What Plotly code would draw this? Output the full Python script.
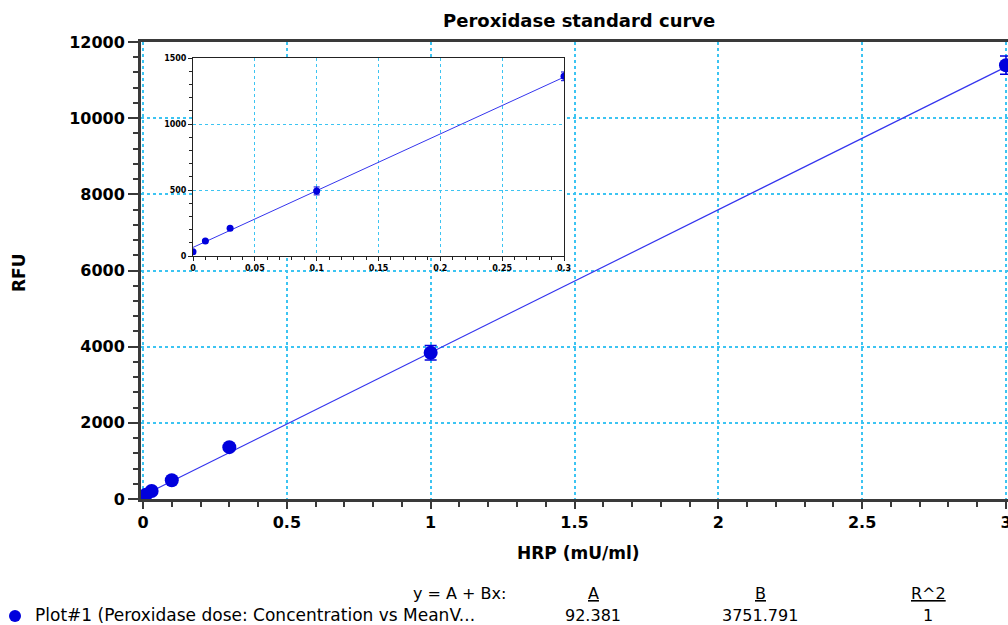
import plotly.graph_objects as go

# ---- data ----
concentration = [0, 0.01, 0.03, 0.1, 0.3, 1, 3]
mean_rfu = [33, 114, 210, 493, 1361, 3840, 11390]
rfu_err = [5, 6, 8, 30, 33, 190, 240]
fit_A = 92.381
fit_B = 3751.791
fit_R2 = 1
inset_fit_A = 65
inset_fit_B = 4300
main_x_ticks = [0, 0.5, 1, 1.5, 2, 2.5, 3]
main_x_labels = ["0", "0.5", "1", "1.5", "2", "2.5", "3"]
main_y_ticks = [0, 2000, 4000, 6000, 8000, 10000, 12000]
main_y_labels = ["0", "2000", "4000", "6000", "8000", "10000", "12000"]
inset_x_ticks = [0, 0.05, 0.1, 0.15, 0.2, 0.25, 0.3]
inset_x_labels = ["0", "0.05", "0.1", "0.15", "0.2", "0.25", "0.3"]
inset_y_ticks = [0, 500, 1000, 1500]
inset_y_labels = ["0", "500", "1000", "1500"]
legend_label = "Plot#1 (Peroxidase dose: Concentration vs MeanV..."

W, H = 1008, 625
ML, MR, MT, MB = 141, 0, 42, 126
PW = W - ML - MR
PH = H - MT - MB


def px(x):
    return (x - ML) / PW


def py(y):
    return (H - MB - y) / PH


MARK = "#0000dd"
LINE = "#3535ee"
GRID = "#3cc4f2"
FONT = "DejaVu Sans, Liberation Sans, Arial, sans-serif"

fig = go.Figure()

# main fit line
fit_x_main = [0, 3]
fig.add_trace(go.Scatter(x=fit_x_main, y=[fit_A + fit_B * v for v in fit_x_main],
                         mode="lines", line=dict(color=LINE, width=1.2),
                         xaxis="x", yaxis="y", showlegend=False, hoverinfo="skip"))
fig.add_trace(go.Scatter(x=concentration, y=mean_rfu, mode="markers",
                         marker=dict(color=MARK, size=14),
                         error_y=dict(type="data", array=rfu_err, color=MARK, thickness=1.5, width=6),
                         xaxis="x", yaxis="y", showlegend=False))

# inset
inset_idx = [i for i, c in enumerate(concentration) if c <= 0.3]
fit_x_inset = [0, 0.3]
fig.add_trace(go.Scatter(x=fit_x_inset, y=[inset_fit_A + inset_fit_B * v for v in fit_x_inset],
                         mode="lines", line=dict(color=LINE, width=1),
                         xaxis="x2", yaxis="y2", showlegend=False, hoverinfo="skip"))
fig.add_trace(go.Scatter(x=[concentration[i] for i in inset_idx],
                         y=[mean_rfu[i] for i in inset_idx], mode="markers",
                         marker=dict(color=MARK, size=7),
                         error_y=dict(type="data", array=[rfu_err[i] for i in inset_idx],
                                      color=MARK, thickness=1, width=3),
                         xaxis="x2", yaxis="y2", showlegend=False))

# inset domain
ix0, ix1 = px(193), px(564)
iy0, iy1 = py(256), py(58)

fig.update_layout(
    width=W, height=H,
    margin=dict(l=ML, r=MR, t=MT, b=MB, autoexpand=False),
    paper_bgcolor="white", plot_bgcolor="white",
    font=dict(family=FONT, color="black"),
    hovermode=False,
    xaxis=dict(domain=[0, 1], range=[-0.007, 3.007], tickvals=main_x_ticks, ticktext=main_x_labels,
               ticklabeloverflow="allow",
               showgrid=True, gridcolor=GRID, griddash="dot", gridwidth=1.5,
               showline=True, linecolor="#3a3a3a", linewidth=3, mirror=True,
               ticks="outside", ticklen=7, tickwidth=2, tickcolor="#3a3a3a",
               minor=dict(dtick=0.1, ticks="outside", ticklen=5, tickwidth=1.5, tickcolor="#3a3a3a"),
               tickfont=dict(size=16, family=FONT, weight="bold"), zeroline=False),
    yaxis=dict(domain=[0, 1], range=[0, 12000], tickvals=main_y_ticks, ticktext=main_y_labels,
               ticklabeloverflow="allow",
               showgrid=True, gridcolor=GRID, griddash="dot", gridwidth=1.5,
               showline=True, linecolor="#3a3a3a", linewidth=3,
               ticks="outside", ticklen=10, tickwidth=2, tickcolor="#3a3a3a",
               minor=dict(dtick=400, ticks="outside", ticklen=5, tickwidth=1.5, tickcolor="#3a3a3a"),
               tickfont=dict(size=16, family=FONT, weight="bold"), zeroline=False),
    xaxis2=dict(domain=[ix0, ix1], anchor="y2", range=[0, 0.3], tickvals=inset_x_ticks,
                ticktext=inset_x_labels, ticklabeloverflow="allow",
                showgrid=True, gridcolor=GRID, griddash="dot", gridwidth=1,
                showline=True, linecolor="#222", linewidth=1, mirror=True,
                ticks="outside", ticklen=4, tickwidth=1, tickcolor="#222",
                minor=dict(dtick=0.01, ticks="outside", ticklen=3, tickwidth=1, tickcolor="#222"),
                tickfont=dict(size=8, family=FONT, weight="bold"), zeroline=False),
    yaxis2=dict(domain=[iy0, iy1], anchor="x2", range=[0, 1500], tickvals=inset_y_ticks,
                ticktext=inset_y_labels, ticklabeloverflow="allow",
                showgrid=True, gridcolor=GRID, griddash="dot", gridwidth=1,
                showline=True, linecolor="#222", linewidth=1, mirror=True,
                ticks="outside", ticklen=4, tickwidth=1, tickcolor="#222",
                minor=dict(dtick=100, ticks="outside", ticklen=3, tickwidth=1, tickcolor="#222"),
                tickfont=dict(size=8, family=FONT, weight="bold"), zeroline=False),
)

# white backdrop behind inset (hides main gridlines)
fig.add_shape(type="rect", xref="x2 domain", yref="y2 domain",
              x0=(162 - 193) / 371, x1=(571 - 193) / 371,
              y0=(256 - 272) / 198, y1=(256 - 52) / 198,
              fillcolor="white", line=dict(width=0), layer="below")

# title and axis titles
fig.add_annotation(x=px(579), y=py(20), xref="paper", yref="paper", text="<b>Peroxidase standard curve</b>",
                   showarrow=False, font=dict(size=18, family=FONT), xanchor="center", yanchor="middle")
fig.add_annotation(x=px(578), y=py(553), xref="paper", yref="paper", text="<b>HRP (mU/ml)</b>",
                   showarrow=False, font=dict(size=17, family=FONT), xanchor="center", yanchor="middle")
fig.add_annotation(x=px(19), y=py(272), xref="paper", yref="paper", text="<b>RFU</b>", textangle=-90,
                   showarrow=False, font=dict(size=17, family=FONT), xanchor="center", yanchor="middle")

# fit table
lf = dict(size=16, family=FONT, color="black")
row1, row2 = py(593), py(615)
fig.add_annotation(x=px(508), y=row1, xref="paper", yref="paper", text="y = A + Bx:",
                   showarrow=False, font=lf, xanchor="right", yanchor="middle")
for cx, hdr, val in [(593, "A", f"{fit_A:.3f}"), (760, "B", f"{fit_B:.3f}"), (928, "R^2", f"{fit_R2}")]:
    fig.add_annotation(x=px(cx), y=row1, xref="paper", yref="paper", text=f"<u>{hdr}</u>",
                       showarrow=False, font=lf, xanchor="center", yanchor="middle")
    fig.add_annotation(x=px(cx), y=row2, xref="paper", yref="paper", text=val,
                       showarrow=False, font=lf, xanchor="center", yanchor="middle")
fig.add_annotation(x=px(33), y=row2, xref="paper", yref="paper", text=legend_label,
                   showarrow=False, font=dict(size=17, family=FONT, color="black"),
                   xanchor="left", yanchor="middle")
fig.add_shape(type="circle", xref="paper", yref="paper",
              x0=px(9), x1=px(21), y0=py(622), y1=py(610),
              fillcolor=MARK, line=dict(width=0))

fig.write_html("out.html", config={"displayModeBar": False},
               post_script="document.body.style.margin='0';document.body.style.overflow='hidden';")
